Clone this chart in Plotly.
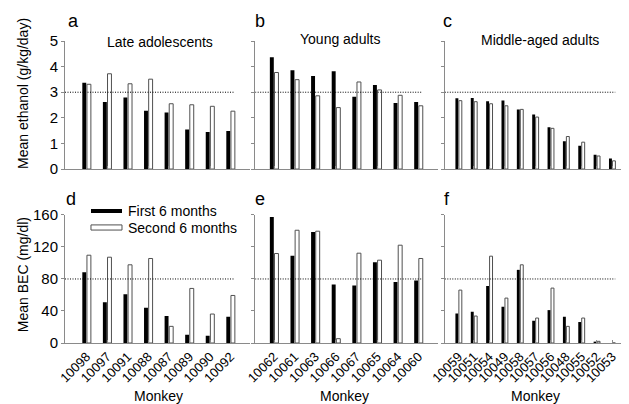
import plotly.graph_objects as go

# Monkey IDs per cohort
late_ids = ["10098", "10097", "10091", "10088", "10087", "10089", "10090", "10092"]
young_ids = ["10062", "10061", "10063", "10066", "10067", "10065", "10064", "10060"]
middle_ids = ["10059", "10051", "10054", "10049", "10058", "10057", "10056",
              "10048", "10055", "10052", "10053"]

# Mean ethanol intake (g/kg/day)
eth_late_first = [3.37, 2.62, 2.79, 2.28, 2.21, 1.54, 1.45, 1.49]
eth_late_second = [3.31, 3.72, 3.33, 3.51, 2.55, 2.51, 2.45, 2.26]
eth_young_first = [4.37, 3.86, 3.63, 3.82, 2.82, 3.28, 2.58, 2.62]
eth_young_second = [3.77, 3.49, 2.86, 2.40, 3.40, 3.09, 2.88, 2.47]
eth_middle_first = [2.76, 2.77, 2.65, 2.68, 2.33, 2.13, 1.63, 1.09, 0.91, 0.56, 0.41]
eth_middle_second = [2.67, 2.63, 2.55, 2.47, 2.33, 2.03, 1.59, 1.27, 1.05, 0.51, 0.32]

# Mean BEC (mg/dl)
bec_late_first = [88.5, 51, 61, 44, 33.7, 10.4, 9.1, 32.8]
bec_late_second = [109.7, 107.2, 97.7, 105.6, 20.8, 68.2, 36.2, 59.4]
bec_young_first = [157.5, 108.9, 138.8, 73.2, 71.9, 101.0, 76.1, 78.1]
bec_young_second = [111.8, 140.9, 139.7, 5.4, 112.2, 103.5, 122.2, 105.6]
bec_middle_first = [37.0, 39.1, 71.1, 45.3, 91.4, 27.8, 41.1, 32.8, 26.2, 1.7, 0]
bec_middle_second = [66.1, 33.7, 108.5, 56.1, 97.7, 31.2, 68.6, 20.8, 31.2, 2.1, 0]

ethanol_threshold = 3
bec_threshold = 80

FONT = "Liberation Sans, Arial, sans-serif"
AXIS_GREY = "#8a8a8a"

panels = [
    # ids, first, second, axis suffix, x range, y range, threshold
    (late_ids, eth_late_first, eth_late_second, "", [-1.05, 7.95], [0, 5], ethanol_threshold),
    (young_ids, eth_young_first, eth_young_second, "2", [-0.92, 7.95], [0, 5], ethanol_threshold),
    (middle_ids, eth_middle_first, eth_middle_second, "3", [-0.9, 10.9], [0, 5], ethanol_threshold),
    (late_ids, bec_late_first, bec_late_second, "4", [-1.05, 7.95], [0, 160], bec_threshold),
    (young_ids, bec_young_first, bec_young_second, "5", [-0.92, 7.95], [0, 160], bec_threshold),
    (middle_ids, bec_middle_first, bec_middle_second, "6", [-0.9, 10.9], [0, 160], bec_threshold),
]

x_domains = [[0, 0.33], [0.339, 0.665], [0.677, 1.0]]
y_domains = [[0.576, 1.0], [0, 0.424]]

fig = go.Figure()
shapes = []

for i, (ids, first, second, sfx, xr, yr, thr) in enumerate(panels):
    xa, ya = "x" + sfx, "y" + sfx
    fig.add_trace(go.Bar(x=ids, y=first, xaxis=xa, yaxis=ya, name="First 6 months",
                         marker=dict(color="black", line=dict(width=0)),
                         showlegend=False))
    fig.add_trace(go.Bar(x=ids, y=second, xaxis=xa, yaxis=ya, name="Second 6 months",
                         marker=dict(color="white", line=dict(color="#505050", width=1)),
                         showlegend=False))
    bottom = i >= 3
    col = i % 3
    fig.layout["xaxis" + sfx] = dict(
        domain=x_domains[col], anchor=ya, type="category", range=xr,
        tickmode="array", tickvals=ids, ticktext=ids,
        showline=True, linecolor=AXIS_GREY, linewidth=1,
        ticks="inside", ticklen=3, tickcolor=AXIS_GREY,
        showticklabels=bottom, tickangle=-45, automargin=False,
        tickfont=dict(size=13, color="black"), showgrid=False, zeroline=False,
    )
    fig.layout["yaxis" + sfx] = dict(
        domain=y_domains[1 if bottom else 0], anchor=xa, range=yr,
        dtick=1 if yr[1] == 5 else 40,
        showline=True, linecolor=AXIS_GREY, linewidth=1,
        ticks="outside", ticklen=3, tickcolor=AXIS_GREY,
        showticklabels=(col == 0), tickfont=dict(size=15, color="black"),
        showgrid=False, zeroline=False,
    )
    shapes.append(dict(type="line", xref=xa, yref=ya, x0=xr[0], x1=len(ids) - 1 + 0.2,
                       y0=thr, y1=thr, line=dict(color="black", width=1, dash="1px,1.5px")))

# legend swatches drawn by hand (long flat bars like the original)
shapes.append(dict(type="rect", xref="paper", yref="paper", x0=0.0463, x1=0.1016,
                   y0=0.4305, y1=0.4437, fillcolor="black", line=dict(width=0)))
shapes.append(dict(type="rect", xref="paper", yref="paper", x0=0.0463, x1=0.1016,
                   y0=0.374, y1=0.391, fillcolor="white", line=dict(color="#505050", width=1)))

annotations = []


def txt(text, x, y, size=14, xanchor="center", yanchor="middle", angle=0):
    annotations.append(dict(text=text, x=x, y=y, xref="paper", yref="paper",
                            showarrow=False, xanchor=xanchor, yanchor=yanchor,
                            textangle=angle, font=dict(size=size, color="black")))


for letter, x, y in [("a", 0.0018, 1.066), ("b", 0.335, 1.066), ("c", 0.670, 1.066),
                     ("d", -0.002, 0.477), ("e", 0.335, 0.477), ("f", 0.672, 0.477)]:
    txt(letter, x, y, size=18, xanchor="left")

txt("Late adolescents", 0.169, 0.997, size=14)
txt("Young adults", 0.490, 1.007, size=14)
txt("Middle-aged adults", 0.847, 1.003, size=14)

txt("First 6 months", 0.1087, 0.437, size=14, xanchor="left")
txt("Second 6 months", 0.1087, 0.381, size=14, xanchor="left")

for x in [0.166, 0.499, 0.838]:
    txt("Monkey", x, -0.175, size=14)

txt("Mean ethanol (g/kg/day)", -0.0749, 0.828, size=14, angle=-90)
txt("Mean BEC (mg/dl)", -0.0749, 0.228, size=14, angle=-90)

fig.update_layout(
    width=629, height=404,
    margin=dict(l=57, r=11, t=33, b=69),
    barmode="group", bargap=0.55, bargroupgap=0.15,
    plot_bgcolor="white", paper_bgcolor="white",
    font=dict(family=FONT, color="black"),
    shapes=shapes, annotations=annotations,
)
fig.update_xaxes(tickangle=-45)

fig.write_html("out.html")
